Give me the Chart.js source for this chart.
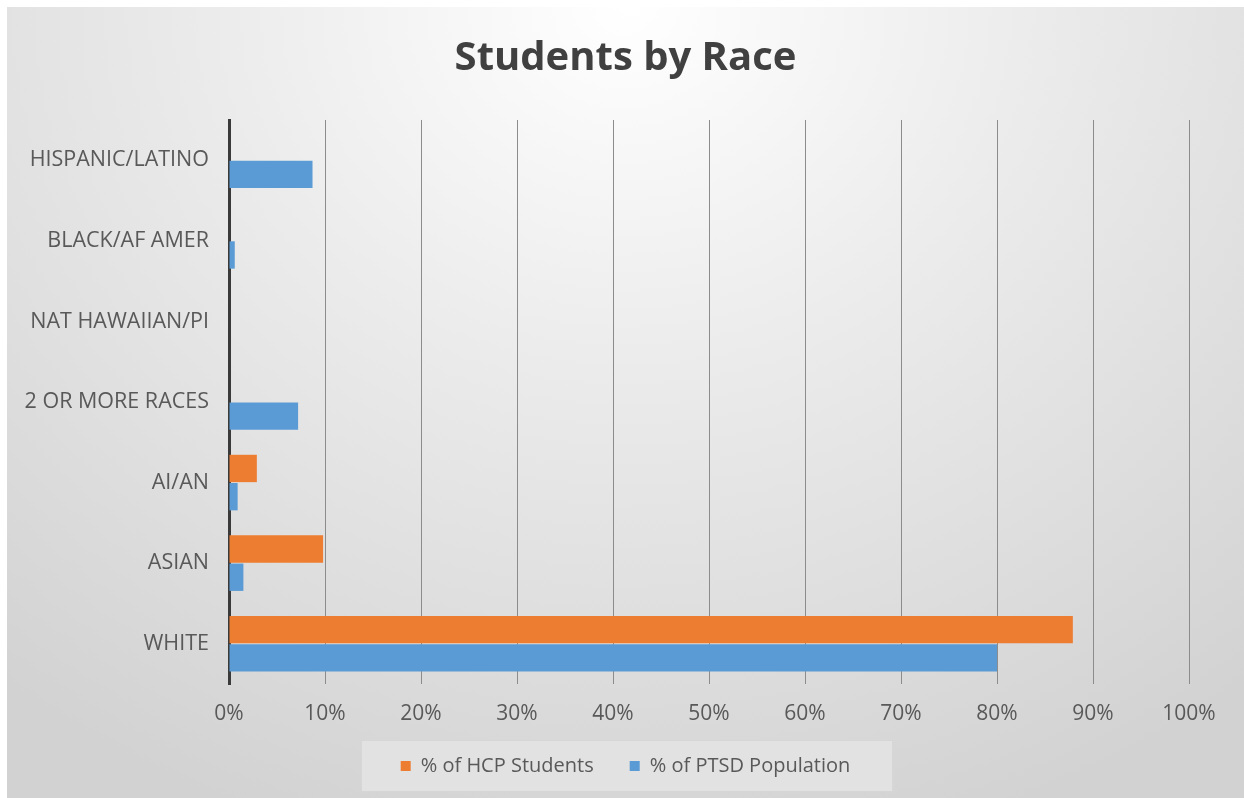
<!DOCTYPE html>
<html>
<head>
<meta charset="utf-8">
<script src="https://cdn.jsdelivr.net/npm/chart.js@4.4.0/dist/chart.umd.min.js"></script>
<style>
  html, body { margin: 0; padding: 0; background: #fff; }
  #frame {
    position: absolute; left: 7px; top: 7px; width: 1237px; height: 791px;
    background: radial-gradient(ellipse 80% 110% at 50% 0%, #ffffff 0%, #ececec 40%, #d2d2d2 100%);
  }
</style>
</head>
<body>
<div id="frame"><canvas id="grafico"></canvas></div>
<script>
// datos (porcentajes)
const categorias = ["HISPANIC/LATINO", "BLACK/AF AMER", "NAT HAWAIIAN/PI", "2 OR MORE RACES", "AI/AN", "ASIAN", "WHITE"];
const hcpStudents = [0, 0, 0, 0, 2.9, 9.8, 87.9];
const ptsdPopulation = [8.7, 0.6, 0, 7.2, 0.9, 1.5, 80];
const ticksX = [0, 10, 20, 30, 40, 50, 60, 70, 80, 90, 100];

const fuente = "'Open Sans', 'Noto Sans', sans-serif";

// caja gris detras de la leyenda
const cajaLeyenda = {
  id: 'cajaLeyenda',
  beforeDraw(chart) {
    const boxes = chart.legend && chart.legend.legendHitBoxes;
    if (!boxes || !boxes.length) return;
    const first = boxes[0], last = boxes[boxes.length - 1];
    const cy = first.top + first.height / 2;
    const ctx = chart.ctx;
    ctx.save();
    ctx.fillStyle = '#e2e2e2';
    ctx.fillRect(first.left - 39, cy - 25, last.left + last.width - first.left + 81, 50);
    ctx.strokeStyle = '#d6d6d6';
    ctx.lineWidth = 1;
    ctx.strokeRect(first.left - 39.5, cy - 25.5, last.left + last.width - first.left + 82, 51);
    ctx.restore();
  }
};

const ctx = document.getElementById("grafico").getContext("2d");
new Chart(ctx, {
  type: 'bar',
  data: {
    labels: categorias,
    datasets: [
      { label: '% of HCP Students', data: hcpStudents, backgroundColor: '#ED7D31', categoryPercentage: 0.7, barPercentage: 0.97 },
      { label: '% of PTSD Population', data: ptsdPopulation, backgroundColor: '#5B9BD5', categoryPercentage: 0.7, barPercentage: 0.97 }
    ]
  },
  options: {
    indexAxis: 'y',
    responsive: true,
    maintainAspectRatio: false,
    animation: false,
    layout: { padding: { left: 0, right: 0, top: 0, bottom: 12 } },
    plugins: {
      title: {
        display: true,
        text: 'Students by Race',
        color: '#404040',
        font: { family: fuente, size: 40, weight: 'bold' },
        padding: { top: 28, bottom: 37 }
      },
      legend: {
        position: 'bottom',
        labels: {
          color: '#595959',
          font: { family: fuente, size: 20 },
          boxWidth: 10,
          boxHeight: 10,
          padding: 36
        }
      },
      tooltip: { enabled: false }
    },
    scales: {
      x: {
        min: 0,
        max: 100,
        afterBuildTicks: scale => { scale.ticks = ticksX.map(v => ({ value: v })); },
        afterFit: scale => { scale.height = 36; },
        ticks: { color: '#595959', font: { family: fuente, size: 21 }, padding: 17, callback: v => v + '%' },
        grid: { color: c => c.index === 0 ? 'rgba(0,0,0,0)' : '#8c8c8c', lineWidth: 1, drawTicks: false },
        border: { display: false }
      },
      y: {
        afterFit: scale => { scale.width = 222; },
        ticks: { color: '#595959', font: { family: fuente, size: 21.5 }, padding: 20 },
        grid: { display: false, drawTicks: false },
        border: { display: true, color: '#3a3a3a', width: 3 }
      },
      // eje vacio a la derecha solo para reservar margen
      margen: {
        type: 'linear',
        position: 'right',
        afterFit: scale => { scale.width = 55; },
        ticks: { display: false },
        grid: { display: false, drawTicks: false },
        border: { display: false }
      }
    }
  },
  plugins: [cajaLeyenda]
});
</script>
</body>
</html>
